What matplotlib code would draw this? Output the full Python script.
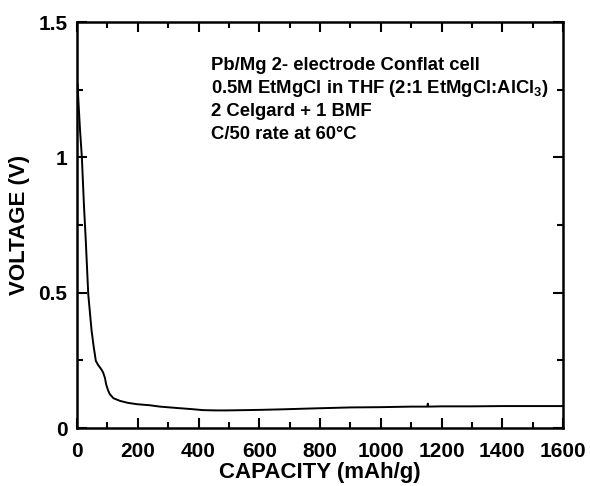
import matplotlib.pyplot as plt
from matplotlib.ticker import MultipleLocator

plt.rcParams['font.family'] = ['Liberation Sans', 'DejaVu Sans']
plt.rcParams['font.weight'] = 'bold'
plt.rcParams['mathtext.fontset'] = 'custom'
plt.rcParams['mathtext.rm'] = 'Liberation Sans:bold'
plt.rcParams['mathtext.it'] = 'Liberation Sans:bold'
plt.rcParams['mathtext.bf'] = 'Liberation Sans:bold'

# discharge curve
capacity = [2, 5, 10, 16, 23, 29, 37, 48, 55, 62, 70, 76, 81, 86, 92, 96, 102, 108, 120, 142,
            167, 197, 240, 273, 328, 375, 415, 458, 492, 552, 603, 677, 767, 833, 900,
            1000, 1100, 1153, 1155, 1157, 1200, 1300, 1400, 1500, 1600]
voltage = [1.27, 1.2, 1.1, 1.0, 0.82, 0.69, 0.495, 0.36, 0.3, 0.248, 0.232, 0.223, 0.215,
           0.205, 0.185, 0.161, 0.14, 0.125, 0.11, 0.1, 0.093, 0.088, 0.084, 0.079, 0.074,
           0.07, 0.066, 0.065, 0.065, 0.066, 0.067, 0.069, 0.072, 0.074, 0.076, 0.077,
           0.079, 0.079, 0.09, 0.079, 0.08, 0.08, 0.081, 0.081, 0.081]

notes = ['Pb/Mg 2- electrode Conflat cell',
         r'0.5M EtMgCl in THF (2:1 EtMgCl:AlCl$_3$)',
         '2 Celgard + 1 BMF',
         'C/50 rate at 60°C']

fig = plt.figure(figsize=(5.9, 4.86), dpi=100)
ax = fig.add_axes([77 / 590, 58 / 486, 486 / 590, 406 / 486])
ax.plot(capacity, voltage, color='black', linewidth=1.4)

ax.set_xlim(0, 1600)
ax.set_ylim(0, 1.5)
ax.xaxis.set_major_locator(MultipleLocator(200))
ax.xaxis.set_minor_locator(MultipleLocator(100))
ax.yaxis.set_minor_locator(MultipleLocator(0.25))
ax.set_yticks([0, 0.5, 1, 1.5])
ax.set_yticklabels(['0', '0.5', '1', '1.5'])
ax.tick_params(which='both', direction='in', top=True, right=True, width=1.5, labelsize=15)
ax.tick_params(which='major', length=7)
ax.tick_params(which='minor', length=4)
ax.tick_params(axis='x', pad=10)
ax.tick_params(axis='y', pad=7)
for s in ax.spines.values():
    s.set_linewidth(1.8)

ax.set_xlabel('CAPACITY (mAh/g)', fontsize=16, fontweight='bold', labelpad=1)
ax.set_ylabel('VOLTAGE (V)', fontsize=16, fontweight='bold', labelpad=6)

for i, t in enumerate(notes):
    ax.text(0.276, 0.894 - i * 0.057, t, transform=ax.transAxes, fontsize=13.3,
            fontweight='bold', va='center', ha='left')

fig.savefig('out.png', dpi=100)
